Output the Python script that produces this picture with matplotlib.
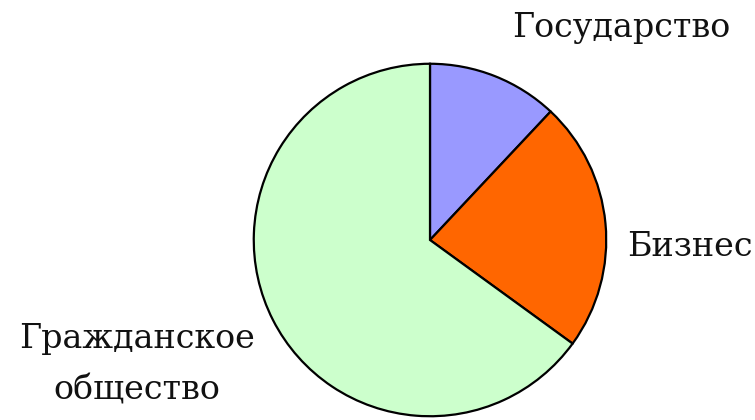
import matplotlib
matplotlib.use("Agg")
import matplotlib.pyplot as plt

categories = ["Государство", "Бизнес", "Гражданское\nобщество"]
values = [12, 23, 65]
colors = ["#9999FF", "#FF6600", "#CCFFCC"]

W, H = 755, 420
fig = plt.figure(figsize=(W / 100, H / 100), dpi=100)
fig.patch.set_facecolor("white")

cx, cy, r = 430, 240, 178
ax = fig.add_axes([(cx - r) / W, (H - cy - r) / H, 2 * r / W, 2 * r / H])
ax.pie(values, colors=colors, startangle=90, counterclock=False, radius=1,
       wedgeprops=dict(edgecolor="black", linewidth=1.6))
ax.set_xlim(-1.01, 1.01)
ax.set_ylim(-1.01, 1.01)
ax.set_aspect("equal")
ax.axis("off")

font = dict(family="DejaVu Serif", fontsize=24, color="#111111")

def px(x, y):
    return x / W, 1 - y / H

fig.text(*px(621, 37), categories[0], ha="center", va="baseline", **font)
fig.text(*px(627, 256), categories[1], ha="left", va="baseline", **font)
fig.text(*px(137, 400), categories[2], ha="center", va="baseline",
         multialignment="center", linespacing=1.8, **font)

fig.savefig("out.png", dpi=100, facecolor="white")
